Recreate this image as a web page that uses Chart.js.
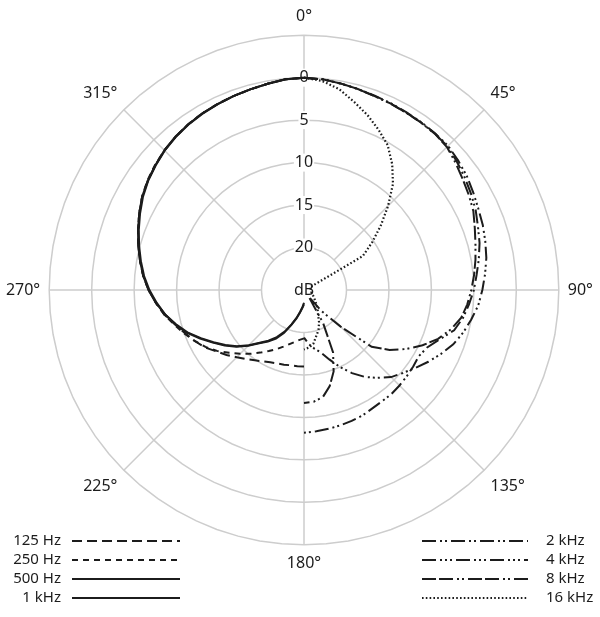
<!DOCTYPE html>
<html>
<head>
<meta charset="utf-8">
<script src="https://cdn.jsdelivr.net/npm/chart.js@4.4.0/dist/chart.umd.min.js"></script>
<style>
  html, body { margin: 0; padding: 0; background: #fff; }
  #wrap { width: 600px; height: 617px; position: relative; }
</style>
</head>
<body>
<div id="wrap"><canvas id="polarChart"></canvas></div>
<script>
// angle categories, degrees clockwise from the front
var angleDeg = [0,5,10,15,20,25,30,35,40,45,50,55,60,65,70,75,80,85,90,95,100,105,110,115,
  120,125,130,135,140,145,150,155,160,165,170,175,180,185,190,195,200,205,210,215,220,225,
  230,235,240,245,250,255,260,265,270,275,280,285,290,295,300,305,310,315,320,325,330,335,340,345,350,355];

// dB tick labels on the rings
var ringTicks = [-5, 0, 5, 10, 15, 20, 25];

// low frequencies: attenuation in dB, from 180 to 360 deg in 5 deg steps
var att125 = [16.0,16.0,16.0,15.9,15.8,15.6,15.3,14.9,14.4,13.8,13.1,12.4,11.5,10.8,10.1,9.3,
  8.3,7.5,6.7,6.0,5.4,4.8,4.2,3.6,3.0,2.55,2.15,1.75,1.45,1.2,1.0,0.85,0.7,0.55,0.35,0.1,0];
var att250 = [19.3,19.1,18.8,18.4,17.9,17.3,16.7,16.0,15.2,14.4,13.5,12.5,11.6,10.8,10.0,9.2,
  8.3,7.5,6.7,6.0,5.4,4.8,4.2,3.6,3.0,2.5,2.1,1.75,1.45,1.2,1.0,0.85,0.7,0.55,0.35,0.1,0];
var att500 = [23.3,22.9,22.3,21.5,20.6,19.4,18.4,17.6,16.8,15.7,14.6,13.6,12.6,11.5,10.3,9.3,
  8.4,7.5,6.7,6.0,5.4,4.8,4.2,3.6,3.0,2.55,2.15,1.75,1.45,1.2,1.0,0.85,0.7,0.55,0.35,0.1,0];
var att1k = [23.5,23.0,22.4,21.6,20.7,19.6,18.6,17.7,16.9,15.8,14.7,13.7,12.7,11.6,10.4,9.4,
  8.4,7.6,6.8,6.1,5.5,4.9,4.3,3.7,3.1,2.6,2.2,1.8,1.5,1.25,1.05,0.9,0.7,0.55,0.35,0.1,0];

// high frequencies: attenuation in dB, from 0 to 180 deg in 5 deg steps
var att2k = [0,0.1,0.3,0.5,0.7,0.8,0.9,0.95,1.0,1.1,1.5,1.9,2.3,2.7,3.2,3.6,4.1,4.6,5.0,5.5,
  6.0,6.7,8.0,9.0,9.4,9.3,9.2,9.1,9.0,9.0,8.9,8.7,8.6,8.5,8.4,8.3,8.2];
var att4k = [0,0.1,0.3,0.5,0.65,0.75,0.85,0.9,0.95,1.0,1.3,1.6,2.0,2.35,2.6,2.9,3.2,3.6,4.0,4.4,
  5.0,5.6,6.3,7.2,8.1,9.0,9.8,10.5,11.5,12.5,13.7,15.0,16.3,17.4,18.0,18.6,19.4];
var att8k = [0,0.1,0.3,0.5,0.7,0.8,0.9,0.95,1.0,1.2,1.7,2.2,2.6,3.0,3.6,4.1,4.5,4.9,5.3,5.7,
  6.2,7.1,8.2,9.6,11.1,12.7,14.6,18.9,21.7,24.0,20.5,16.9,14.8,13.3,12.2,11.8,11.7];
var att16k = [0,0.3,1.0,2.1,3.1,4.2,5.3,6.9,8.7,11.0,13.2,15.2,17.0,24.2,24.2,24.2,24.2,24.2,24.2,24.2,
  24.1,24.1,24.0,23.9,23.8,23.6,23.4,23.1,22.7,22.2,21.7,20.8,20.0,19.4,18.6,18.2,18.0];

var seriesNames = ['125 Hz', '250 Hz', '500 Hz', '1 kHz', '2 kHz', '4 kHz', '8 kHz', '16 kHz'];

// put a half-circle series on the 72 angle slots
function backHalf(vals) {
  var d = angleDeg.map(function () { return null; });
  for (var i = 0; i < 36; i++) d[36 + i] = vals[i];
  d[0] = vals[36];
  return d;
}
function frontHalf(vals) {
  var d = angleDeg.map(function () { return null; });
  for (var i = 0; i < 37; i++) d[i] = vals[i];
  return d;
}

var FONT = 'Noto Sans';
var INK = '#1c1c1c';
var GRID = '#cdcdcd';

var dashes = [
  [10, 5],
  [6, 5],
  [],
  [],
  [14, 4, 2, 3, 2, 4],
  [14, 4, 2, 3, 2, 3, 2, 4],
  [14, 3, 14, 4, 2, 3, 2, 4],
  [1.6, 2.2]
];

var seriesData = [
  backHalf(att125), backHalf(att250), backHalf(att500), backHalf(att1k),
  frontHalf(att2k), frontHalf(att4k), frontHalf(att8k), frontHalf(att16k)
];

var datasets = seriesNames.map(function (name, i) {
  return {
    label: name,
    data: seriesData[i],
    borderColor: INK,
    borderWidth: i === 7 ? 2.2 : 2,
    borderDash: dashes[i],
    pointRadius: 0,
    pointHoverRadius: 0,
    fill: false,
    tension: 0,
    spanGaps: false
  };
});

// legend drawn as line samples, two blocks at the bottom corners
var sideLegend = {
  id: 'sideLegend',
  afterDraw: function (chart) {
    var ctx = chart.ctx;
    var rows = [541, 560, 579, 598];
    ctx.save();
    ctx.font = '15px "' + FONT + '"';
    ctx.fillStyle = INK;
    ctx.textBaseline = 'middle';
    chart.data.datasets.forEach(function (ds, i) {
      var y = rows[i % 4];
      var x0, x1;
      if (i < 4) {
        x0 = 72; x1 = 180;
        ctx.textAlign = 'right';
        ctx.fillText(ds.label, 61, y);
      } else {
        x0 = 422; x1 = 528;
        ctx.textAlign = 'left';
        ctx.fillText(ds.label, 546, y);
      }
      ctx.beginPath();
      ctx.setLineDash(ds.borderDash);
      ctx.lineWidth = 2;
      ctx.strokeStyle = INK;
      ctx.moveTo(x0, y);
      ctx.lineTo(x1, y);
      ctx.stroke();
    });
    ctx.restore();
  }
};

new Chart(document.getElementById('polarChart'), {
  type: 'radar',
  data: {
    labels: angleDeg.map(function (a) { return a + '°'; }),
    datasets: datasets
  },
  options: {
    responsive: true,
    maintainAspectRatio: false,
    animation: false,
    layout: { padding: { top: 7, bottom: 43, left: -5, right: 0 } },
    plugins: {
      legend: { display: false },
      tooltip: { enabled: false }
    },
    scales: {
      r: {
        min: -5,
        max: 25,
        reverse: true,
        afterBuildTicks: function (scale) {
          scale.ticks = ringTicks.map(function (v) { return { value: v }; });
        },
        ticks: {
          stepSize: 5,
          color: INK,
          font: { family: FONT, size: 16 },
          backdropColor: '#ffffff',
          backdropPadding: 1,
          showLabelBackdrop: function (c) { return c.tick && c.tick.value !== -5; },
          callback: function (v) {
            if (v === 25) return 'dB';
            if (v === -5) return '';
            return String(v);
          }
        },
        grid: { color: GRID, lineWidth: 1.5 },
        angleLines: {
          color: GRID,
          lineWidth: function (c) { return c.index % 9 === 0 ? 1.5 : 0; },
          borderDash: function (c) {
            var inner = c.scale.getDistanceFromCenterForValue(20);
            return [0, inner, 2000, 0];
          }
        },
        pointLabels: {
          color: INK,
          padding: 0,
          font: { family: FONT, size: 16 },
          callback: function (label, i) { return i % 9 === 0 ? label : ''; }
        }
      }
    }
  },
  plugins: [sideLegend]
});
</script>
</body>
</html>
